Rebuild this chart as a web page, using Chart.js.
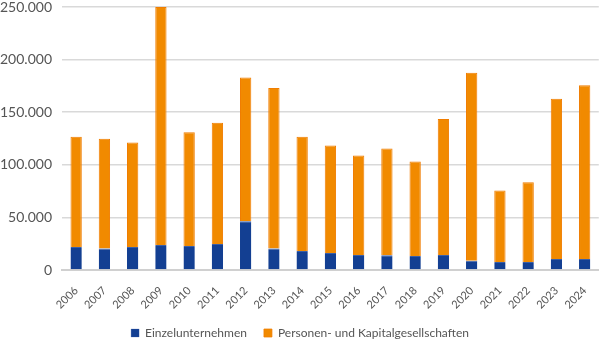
<!DOCTYPE html>
<html>
<head>
<meta charset="utf-8">
<script src="https://cdn.jsdelivr.net/npm/chart.js@4"></script>
<style>
  html, body { margin: 0; padding: 0; background: #fff; }
  #wrap { width: 600px; height: 342px; }
</style>
</head>
<body>
<div id="wrap"><canvas id="chart"></canvas></div>
<script>
const YEARS = ["2006", "2007", "2008", "2009", "2010", "2011", "2012", "2013", "2014", "2015",
       "2016", "2017", "2018", "2019", "2020", "2021", "2022", "2023", "2024"]

// Einzelunternehmen (blue, bottom)
const EINZEL = [21800, 20500, 21800, 23700, 22700, 24600, 46400, 20500, 18000, 16100,
       14200, 14000, 13300, 14200, 8900, 7600, 7600, 10400, 10400]

// Personen- und Kapitalgesellschaften (orange, stacked on top)
const PERSONEN = [104800, 104200, 99400, 226300, 108300, 115300, 136600, 152500, 108600, 102300,
       94700, 101500, 89900, 129400, 178600, 67900, 75700, 152500, 165200]

const Y_TICKS = [0, 50000, 100000, 150000, 200000, 250000]

const FONT = "Lato, 'Open Sans', sans-serif"

function fmt(v) {
       return String(v).replace(/\B(?=(\d{3})+(?!\d))/g, ".")
}

new Chart(document.getElementById("chart"), {
       type: "bar",
       data: {
              labels: YEARS,
              datasets: [
                     {
                            label: "Einzelunternehmen",
                            data: EINZEL,
                            backgroundColor: "#133f92",
                            borderColor: "#3a5fa8",
                            borderWidth: { top: 1, left: 0, right: 0, bottom: 0 }
                     },
                     {
                            label: "Personen- und Kapitalgesellschaften",
                            data: PERSONEN,
                            backgroundColor: "#f18a00",
                            borderColor: "#f07d00",
                            borderWidth: { top: 1, left: 1, right: 1, bottom: 0 }
                     }
              ]
       },
       options: {
              responsive: true,
              maintainAspectRatio: false,
              animation: false,
              layout: { padding: 0 },
              datasets: {
                     bar: { barPercentage: 0.4, categoryPercentage: 1 }
              },
              plugins: {
                     legend: {
                            position: "bottom",
                            maxHeight: 32,
                            labels: {
                                   boxWidth: 8,
                                   boxHeight: 8,
                                   padding: 17,
                                   color: "#555",
                                   font: { family: FONT, size: 12 }
                            }
                     },
                     tooltip: { enabled: false }
              },
              scales: {
                     x: {
                            stacked: true,
                            grid: { display: false },
                            border: { color: "#d0d0d0", width: 2 },
                            // fixed height so the legend lands where it should
                            afterFit: scale => { scale.height = 40 },
                            ticks: {
                                   color: "#555",
                                   font: { family: FONT, size: 11 },
                                   minRotation: 45,
                                   maxRotation: 45,
                                   padding: 6
                            }
                     },
                     y: {
                            stacked: true,
                            min: 0,
                            max: 250000,
                            afterBuildTicks: axis => {
                                   axis.ticks = Y_TICKS.map(v => ({ value: v }))
                            },
                            grid: {
                                   color: "#d9d9d9",
                                   lineWidth: 1.5,
                                   drawTicks: true,
                                   tickLength: 10,
                                   tickColor: "transparent"
                            },
                            border: { display: false },
                            ticks: {
                                   color: "#555",
                                   font: { family: FONT, size: 14, lineHeight: 1 },
                                   padding: 0,
                                   callback: v => fmt(v)
                            }
                     }
              }
       }
})
</script>
</body>
</html>
